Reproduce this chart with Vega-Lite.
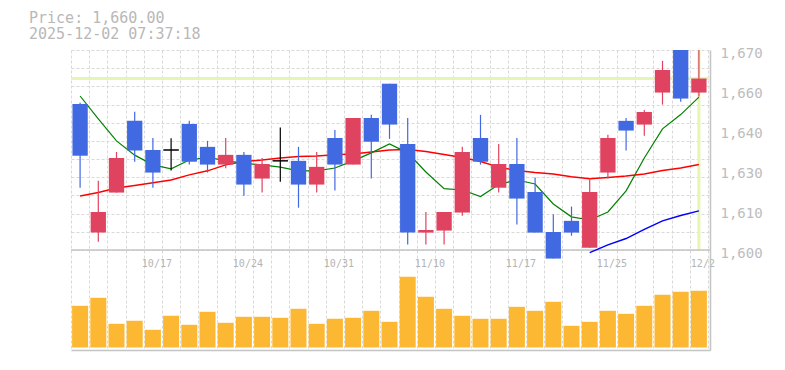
{
  "$schema": "https://vega.github.io/schema/vega-lite/v6.json",
  "width": 639,
  "height": 300,
  "autosize": "none",
  "padding": {"left": 71, "top": 50, "right": 75, "bottom": 20},
  "background": "white",
  "title": {
    "text": ["Price: 1,660.00", "2025-12-02 07:37:18"],
    "anchor": "start",
    "frame": "group",
    "font": "DejaVu Sans Mono",
    "fontSize": 15,
    "fontWeight": "normal",
    "color": "#b8b8b8",
    "lineHeight": 16,
    "baseline": "bottom",
    "dx": -42,
    "offset": -11
  },
  "config": {"view": {"stroke": null}, "font": "DejaVu Sans Mono"},
  "data": {
    "values": [
      {"d": "10/10", "o": 1651.1, "h": 1651.5, "l": 1621.8, "c": 1633.0, "v": 41.7, "m5": 1653.9, "m25": 1618.9},
      {"d": "10/14", "o": 1606.1, "h": 1624.2, "l": 1602.9, "c": 1613.3, "v": 49.7, "m5": 1645.9, "m25": 1620.1},
      {"d": "10/15", "o": 1620.1, "h": 1634.3, "l": 1620.1, "c": 1632.2, "v": 23.7, "m5": 1638.2, "m25": 1621.7},
      {"d": "10/16", "o": 1645.2, "h": 1648.4, "l": 1630.9, "c": 1634.8, "v": 26.7, "m5": 1633.2, "m25": 1622.6},
      {"d": "10/17", "o": 1635.0, "h": 1639.2, "l": 1621.8, "c": 1627.1, "v": 17.7, "m5": 1629.8, "m25": 1623.5},
      {"d": "10/20", "o": 1635.0, "h": 1639.1, "l": 1627.8, "c": 1635.0, "v": 31.7, "m5": 1628.4, "m25": 1624.5},
      {"d": "10/21", "o": 1644.1, "h": 1645.2, "l": 1629.9, "c": 1630.9, "v": 22.7, "m5": 1631.5, "m25": 1626.3},
      {"d": "10/22", "o": 1636.1, "h": 1638.2, "l": 1627.1, "c": 1629.9, "v": 35.7, "m5": 1632.4, "m25": 1627.7},
      {"d": "10/23", "o": 1629.9, "h": 1639.2, "l": 1628.6, "c": 1633.3, "v": 24.7, "m5": 1631.3, "m25": 1629.8},
      {"d": "10/24", "o": 1633.3, "h": 1634.3, "l": 1619.0, "c": 1622.9, "v": 30.7, "m5": 1630.3, "m25": 1631.0},
      {"d": "10/27", "o": 1625.0, "h": 1632.2, "l": 1620.1, "c": 1630.1, "v": 30.7, "m5": 1629.8, "m25": 1631.5},
      {"d": "10/28", "o": 1631.2, "h": 1642.9, "l": 1623.9, "c": 1631.2, "v": 29.7, "m5": 1629.0, "m25": 1632.2},
      {"d": "10/29", "o": 1631.2, "h": 1636.1, "l": 1614.8, "c": 1622.9, "v": 38.7, "m5": 1627.7, "m25": 1632.7},
      {"d": "10/30", "o": 1622.9, "h": 1634.3, "l": 1620.1, "c": 1629.1, "v": 23.7, "m5": 1627.7, "m25": 1632.9},
      {"d": "10/31", "o": 1639.2, "h": 1642.0, "l": 1620.8, "c": 1629.9, "v": 28.7, "m5": 1628.7, "m25": 1633.3},
      {"d": "11/4", "o": 1629.9, "h": 1646.2, "l": 1629.9, "c": 1646.2, "v": 29.7, "m5": 1631.2, "m25": 1633.6},
      {"d": "11/5", "o": 1646.2, "h": 1647.3, "l": 1625.0, "c": 1637.9, "v": 36.7, "m5": 1634.0, "m25": 1634.3},
      {"d": "11/6", "o": 1658.2, "h": 1658.2, "l": 1638.9, "c": 1643.9, "v": 25.7, "m5": 1637.1, "m25": 1635.0},
      {"d": "11/7", "o": 1637.1, "h": 1646.2, "l": 1601.9, "c": 1606.1, "v": 70.7, "m5": 1634.0, "m25": 1635.2},
      {"d": "11/10", "o": 1606.1, "h": 1613.3, "l": 1601.9, "c": 1607.0, "v": 50.7, "m5": 1627.3, "m25": 1634.5},
      {"d": "11/11", "o": 1606.8, "h": 1613.3, "l": 1601.9, "c": 1613.3, "v": 38.7, "m5": 1621.5, "m25": 1633.4},
      {"d": "11/12", "o": 1613.1, "h": 1636.1, "l": 1612.0, "c": 1634.3, "v": 31.7, "m5": 1621.0, "m25": 1632.4},
      {"d": "11/13", "o": 1639.2, "h": 1647.3, "l": 1629.9, "c": 1630.9, "v": 28.7, "m5": 1618.7, "m25": 1631.0},
      {"d": "11/14", "o": 1621.8, "h": 1637.1, "l": 1620.1, "c": 1630.1, "v": 28.7, "m5": 1622.9, "m25": 1629.0},
      {"d": "11/17", "o": 1630.1, "h": 1639.2, "l": 1608.9, "c": 1618.0, "v": 40.7, "m5": 1624.5, "m25": 1627.8},
      {"d": "11/18", "o": 1620.3, "h": 1625.4, "l": 1606.1, "c": 1606.1, "v": 36.7, "m5": 1623.1, "m25": 1627.1},
      {"d": "11/19", "o": 1606.3, "h": 1612.5, "l": 1597.0, "c": 1597.0, "v": 45.7, "m5": 1616.1, "m25": 1626.6},
      {"d": "11/20", "o": 1610.2, "h": 1615.2, "l": 1605.0, "c": 1606.1, "v": 21.7, "m5": 1611.6, "m25": 1625.6},
      {"d": "11/21", "o": 1600.8, "h": 1625.0, "l": 1600.8, "c": 1620.3, "v": 25.7, "m5": 1610.5, "m25": 1624.9, "m75": 1599.1},
      {"d": "11/25", "o": 1627.1, "h": 1640.3, "l": 1625.0, "c": 1639.2, "v": 36.7, "m5": 1613.3, "m25": 1625.4, "m75": 1601.8},
      {"d": "11/26", "o": 1645.2, "h": 1646.2, "l": 1634.8, "c": 1641.8, "v": 33.7, "m5": 1620.7, "m25": 1625.9, "m75": 1604.0},
      {"d": "11/27", "o": 1643.9, "h": 1649.0, "l": 1640.0, "c": 1648.3, "v": 41.7, "m5": 1632.2, "m25": 1626.6, "m75": 1607.2},
      {"d": "11/28", "o": 1655.1, "h": 1666.2, "l": 1650.9, "c": 1663.0, "v": 52.7, "m5": 1642.4, "m25": 1627.8, "m75": 1610.2},
      {"d": "12/1", "o": 1672.0, "h": 1674.0, "l": 1651.9, "c": 1653.0, "v": 55.7, "m5": 1647.4, "m25": 1628.7, "m75": 1612.1},
      {"d": "12/2", "o": 1655.1, "h": 1676.0, "l": 1653.7, "c": 1660.0, "v": 56.7, "m5": 1653.5, "m25": 1629.9, "m75": 1613.7}
    ]
  },
  "layer": [
    {
      "resolve": {"axis": {"y": "independent"}},
      "layer": [
        {
          "transform": [{"filter": "datum.d == '12/2'"}],
          "mark": {"type": "rule", "color": "#e4f5b4", "strokeWidth": 3},
          "encoding": {"y": {"datum": 1660, "type": "quantitative", "axis": null}}
        },
        {
          "transform": [{"filter": "datum.d == '12/2'"}],
          "mark": {"type": "rule", "color": "#e4f5b4", "strokeWidth": 3},
          "encoding": {
            "x": {"field": "d", "type": "nominal", "sort": null, "title": null,
                  "scale": {"domain": ["10/10","10/14","10/15","10/16","10/17","10/20","10/21","10/22","10/23","10/24","10/27","10/28","10/29","10/30","10/31","11/4","11/5","11/6","11/7","11/10","11/11","11/12","11/13","11/14","11/17","11/18","11/19","11/20","11/21","11/25","11/26","11/27","11/28","12/1","12/2"], "paddingInner": 0, "paddingOuter": 0.055, "align": 0},
                  "axis": {
                    "tickBand": "extent",
                    "grid": true,
                    "gridColor": "#d9d9d9",
                    "gridDash": [3, 2],
                    "gridWidth": 1,
                    "ticks": false,
                    "tickSize": 0,
                    "domain": true,
                    "domainColor": "#c4c4c4",
                    "domainWidth": 1.5,
                    "labelExpr": "indexof(['10/17','10/24','10/31','11/10','11/17','11/25','12/2'], datum.label) >= 0 ? datum.label : ''",
                    "labelAngle": 0,
                    "labelFont": "DejaVu Sans Mono",
                    "labelFontSize": 10,
                    "labelColor": "#b4b4b4",
                    "labelPadding": -84,
                    "labelBaseline": "alphabetic",
                    "labelOffset": 3.5,
                    "labelOverlap": false,
                    "labelFlush": false,
                    "labelBound": false
                  }},
            "y": {"datum": 1600, "type": "quantitative", "axis": null},
            "y2": {"datum": 1670}
          }
        },
        {
          "transform": [{"filter": "datum.d == '12/2'"}],
          "mark": {"type": "rule", "color": "#c4c4c4", "strokeWidth": 1.5},
          "encoding": {"y": {"datum": 1600, "type": "quantitative", "axis": null}}
        },
        {
          "mark": {"type": "line", "color": "#ff0000", "strokeWidth": 1.5},
          "encoding": {
            "x": {"field": "d", "type": "nominal", "sort": null, "title": null,
                  "scale": {"domain": ["10/10","10/14","10/15","10/16","10/17","10/20","10/21","10/22","10/23","10/24","10/27","10/28","10/29","10/30","10/31","11/4","11/5","11/6","11/7","11/10","11/11","11/12","11/13","11/14","11/17","11/18","11/19","11/20","11/21","11/25","11/26","11/27","11/28","12/1","12/2"], "paddingInner": 0, "paddingOuter": 0.055, "align": 0}},
            "y": {"field": "m25", "type": "quantitative", "title": null,
                  "scale": {"domain": [1565, 1670], "nice": false, "zero": false},
                  "axis": {
                    "orient": "right",
                    "values": [1600, 1614, 1628, 1642, 1656, 1670],
                    "labelExpr": "format(round(datum.value/10)*10, ',')",
                    "grid": false,
                    "ticks": false,
                    "tickSize": 0,
                    "domain": true,
                    "domainColor": "#c4c4c4",
                    "domainWidth": 1.5,
                    "labelFont": "DejaVu Sans Mono",
                    "labelFontSize": 14,
                    "labelColor": "#bdbdbd",
                    "labelPadding": 10,
                    "labelOffset": 3.3,
                    "labelOverlap": false,
                    "labelFlush": false
                  }}
          }
        },
        {
          "mark": {"type": "line", "color": "#008000", "strokeWidth": 1.2},
          "encoding": {
            "x": {"field": "d", "type": "nominal", "sort": null, "title": null,
                  "scale": {"domain": ["10/10","10/14","10/15","10/16","10/17","10/20","10/21","10/22","10/23","10/24","10/27","10/28","10/29","10/30","10/31","11/4","11/5","11/6","11/7","11/10","11/11","11/12","11/13","11/14","11/17","11/18","11/19","11/20","11/21","11/25","11/26","11/27","11/28","12/1","12/2"], "paddingInner": 0, "paddingOuter": 0.055, "align": 0}},
            "y": {"field": "m5", "type": "quantitative", "title": null,
                  "axis": {
                    "orient": "left",
                    "values": [1600, 1606.3636, 1612.7273, 1619.0909, 1625.4545, 1631.8182, 1638.1818, 1644.5455, 1650.9091, 1657.2727, 1663.6364, 1670],
                    "labels": false,
                    "ticks": false,
                    "domain": false,
                    "grid": true,
                    "gridColor": "#d9d9d9",
                    "gridDash": [3, 2],
                    "gridWidth": 1
                  }}
          }
        },
        {
          "mark": {"type": "line", "color": "#0000ff", "strokeWidth": 1.5},
          "encoding": {
            "x": {"field": "d", "type": "nominal", "sort": null, "title": null,
                  "scale": {"domain": ["10/10","10/14","10/15","10/16","10/17","10/20","10/21","10/22","10/23","10/24","10/27","10/28","10/29","10/30","10/31","11/4","11/5","11/6","11/7","11/10","11/11","11/12","11/13","11/14","11/17","11/18","11/19","11/20","11/21","11/25","11/26","11/27","11/28","12/1","12/2"], "paddingInner": 0, "paddingOuter": 0.055, "align": 0}},
            "y": {"field": "m75", "type": "quantitative", "title": null, "axis": null}
          }
        },
        {
          "mark": {"type": "rule", "strokeWidth": 1.2, "clip": true},
          "encoding": {
            "x": {"field": "d", "type": "nominal", "sort": null, "title": null,
                  "scale": {"domain": ["10/10","10/14","10/15","10/16","10/17","10/20","10/21","10/22","10/23","10/24","10/27","10/28","10/29","10/30","10/31","11/4","11/5","11/6","11/7","11/10","11/11","11/12","11/13","11/14","11/17","11/18","11/19","11/20","11/21","11/25","11/26","11/27","11/28","12/1","12/2"], "paddingInner": 0, "paddingOuter": 0.055, "align": 0}},
            "y": {"field": "l", "type": "quantitative", "title": null, "axis": null},
            "y2": {"field": "h"},
            "color": {"condition": [{"test": "datum.c > datum.o", "value": "#e0435f"}, {"test": "datum.c < datum.o", "value": "#4169e1"}], "value": "#000000"}
          }
        },
        {
          "mark": {"type": "bar", "width": {"band": 0.84}, "clip": true},
          "encoding": {
            "x": {"field": "d", "type": "nominal", "sort": null, "title": null,
                  "scale": {"domain": ["10/10","10/14","10/15","10/16","10/17","10/20","10/21","10/22","10/23","10/24","10/27","10/28","10/29","10/30","10/31","11/4","11/5","11/6","11/7","11/10","11/11","11/12","11/13","11/14","11/17","11/18","11/19","11/20","11/21","11/25","11/26","11/27","11/28","12/1","12/2"], "paddingInner": 0, "paddingOuter": 0.055, "align": 0}},
            "y": {"field": "o", "type": "quantitative", "title": null, "axis": null},
            "y2": {"field": "c"},
            "color": {"condition": [{"test": "datum.c > datum.o", "value": "#e0435f"}, {"test": "datum.c < datum.o", "value": "#4169e1"}], "value": "#000000"},
            "stroke": {"condition": [{"test": "datum.c > datum.o", "value": "#e0435f"}, {"test": "datum.c < datum.o", "value": "#4169e1"}], "value": "#000000"},
            "strokeWidth": {"condition": {"test": "datum.c == datum.o", "value": 1}, "value": 0}
          }
        }
      ]
    },
    {
      "mark": {"type": "bar", "color": "#fdb833", "width": {"band": 0.88}},
      "encoding": {
        "x": {"field": "d", "type": "nominal", "sort": null, "title": null,
              "scale": {"domain": ["10/10","10/14","10/15","10/16","10/17","10/20","10/21","10/22","10/23","10/24","10/27","10/28","10/29","10/30","10/31","11/4","11/5","11/6","11/7","11/10","11/11","11/12","11/13","11/14","11/17","11/18","11/19","11/20","11/21","11/25","11/26","11/27","11/28","12/1","12/2"], "paddingInner": 0, "paddingOuter": 0.055, "align": 0}},
        "y": {"field": "v", "type": "quantitative", "title": null,
              "scale": {"domain": [-2.5, 297.5], "nice": false, "zero": false},
              "axis": null}
      }
    }
  ],
  "resolve": {"scale": {"y": "independent"}}
}
